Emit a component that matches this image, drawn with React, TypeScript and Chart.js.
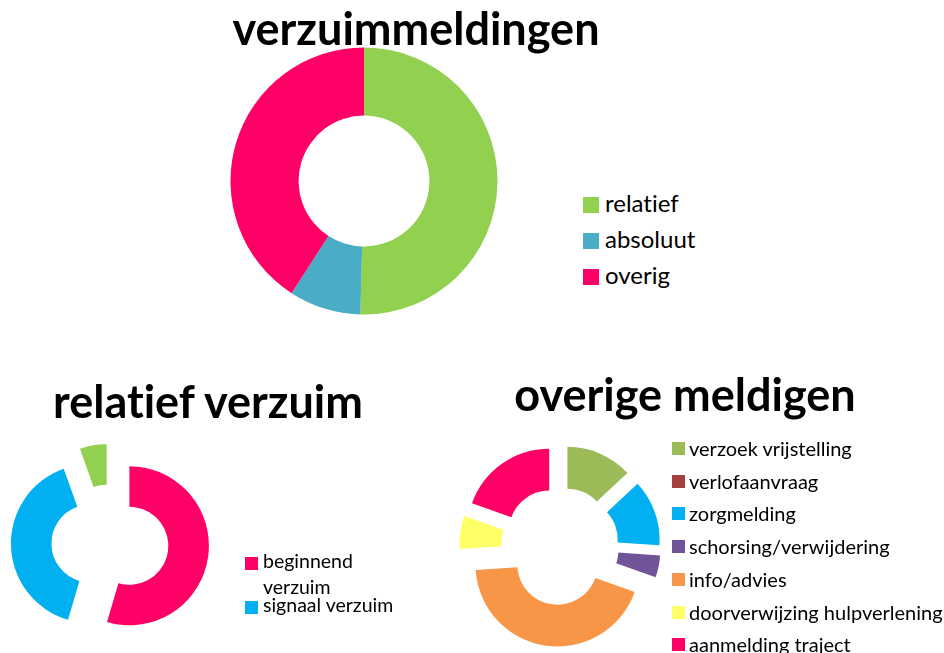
import React, { useEffect, useRef } from "react";
import { Chart, registerables } from "chart.js";

Chart.register(...registerables);

// ---- data ----
const mainTitle = "verzuimmeldingen";
const mainLabels = ["relatief", "absoluut", "overig"];
const mainValues = [58, 10, 47];
const mainColors = ["#92D050", "#4BACC6", "#FF0066"];

const relTitle = "relatief verzuim";
const relLabels = ["beginnend verzuim", "signaal verzuim", ""];
const relValues = [30, 22, 3];
const relColors = ["#FF0066", "#00B0F0", "#92D050"];

const ovTitle = "overige meldigen";
const ovLabels = [
  "verzoek vrijstelling",
  "verlofaanvraag",
  "zorgmelding",
  "schorsing/verwijdering",
  "info/advies",
  "doorverwijzing hulpverlening",
  "aanmelding traject",
];
const ovValues = [6, 0, 6, 2, 20, 3, 9];
const ovColors = ["#9BBB59", "#A5403F", "#00B0F0", "#6F5597", "#F79646", "#FFFF66", "#FF0066"];

const FONT = "Lato, 'Open Sans', sans-serif";

type DonutProps = {
  labels: string[];
  values: number[];
  colors: string[];
  radius: number;
  explode: number;
  size: number;
  cx: number;
  cy: number;
};

function Donut({ labels, values, colors, radius, explode, size, cx, cy }: DonutProps) {
  const ref = useRef<HTMLCanvasElement | null>(null);
  useEffect(() => {
    if (!ref.current) return;
    // shifts every slice outward along its bisector by the same distance (exploded doughnut)
    const explodePlugin = {
      id: "explodeSlices",
      afterDatasetUpdate(chart: any, args: any) {
        if (!explode) return;
        const meta = chart.getDatasetMeta(args.index);
        meta.data.forEach((el: any) => {
          const mid = (el.startAngle + el.endAngle) / 2;
          el.x += Math.cos(mid) * explode;
          el.y += Math.sin(mid) * explode;
        });
      },
    };
    const chart = new Chart(ref.current, {
      type: "doughnut",
      data: {
        labels,
        datasets: [
          {
            data: values,
            backgroundColor: colors,
            borderWidth: 0,
            offset: 0,
            hoverOffset: 0,
          } as any,
        ],
      },
      options: {
        responsive: false,
        animation: false,
        radius,
        cutout: "49%",
        events: [],
        layout: { padding: 0 },
        plugins: {
          legend: { display: false },
          title: { display: false },
          tooltip: { enabled: false },
        },
      } as any,
      plugins: [explodePlugin],
    });
    return () => chart.destroy();
  }, []);
  return (
    <canvas
      ref={ref}
      width={size}
      height={size}
      style={{ position: "absolute", left: cx - size / 2, top: cy - size / 2, width: size, height: size }}
    />
  );
}

function Title({ text, cx, baseline, fs }: { text: string; cx: number; baseline: number; fs: number }) {
  return (
    <div
      style={{
        position: "absolute",
        left: cx - 400,
        width: 800,
        top: baseline - 0.887 * fs,
        textAlign: "center",
        fontFamily: FONT,
        fontWeight: 700,
        fontSize: fs,
        lineHeight: `${fs}px`,
        color: "#000",
        whiteSpace: "nowrap",
        fontVariantLigatures: "none",
      }}
    >
      {text}
    </div>
  );
}

function RowLegend({
  labels,
  colors,
  x,
  y0,
  step,
  box,
  fs,
  gap,
  dy,
}: {
  labels: string[];
  colors: string[];
  x: number;
  y0: number;
  step: number;
  box: number;
  fs: number;
  gap: number;
  dy: number;
}) {
  return (
    <>
      {labels.map((l, i) => (
        <div
          key={i}
          style={{
            position: "absolute",
            left: x,
            top: y0 + i * step,
            height: box,
            display: "flex",
            alignItems: "center",
            whiteSpace: "nowrap",
          }}
        >
          <span style={{ display: "inline-block", width: box, height: box, background: colors[i] }} />
          <span
            style={{
              position: "relative",
              top: dy,
              marginLeft: gap,
              fontFamily: FONT,
              fontSize: fs,
              lineHeight: `${box}px`,
              color: "#000",
              fontVariantLigatures: "none",
            }}
          >
            {l}
          </span>
        </div>
      ))}
    </>
  );
}

function WrapLegend({ labels, colors }: { labels: string[]; colors: string[] }) {
  const fs = 19.5;
  const lh = 26;
  const items = labels.map((l, i) => ({ l, c: colors[i] })).filter((d) => d.l !== "");
  return (
    <div style={{ position: "absolute", left: 245, top: 548.4, width: 200 }}>
      {items.map((d, i) => (
        <div key={i} style={{ position: "relative", marginTop: i === 0 ? 0 : -8, paddingLeft: 18 }}>
          <span
            style={{ position: "absolute", left: 0, top: 8.5, width: 13, height: 13, background: d.c }}
          />
          <div
            style={{
              width: 145,
              fontFamily: FONT,
              fontSize: fs,
              lineHeight: `${lh}px`,
              color: "#000",
              fontVariantLigatures: "none",
            }}
          >
            {d.l}
          </div>
        </div>
      ))}
    </div>
  );
}

export default function App() {
  return (
    <div
      style={{
        position: "fixed",
        left: 0,
        top: 0,
        width: 944,
        height: 653,
        overflow: "hidden",
        background: "#fff",
      }}
    >
      <Donut labels={mainLabels} values={mainValues} colors={mainColors} radius={133.5} explode={0} size={300} cx={364} cy={181} />
      <Donut labels={relLabels} values={relValues} colors={relColors} radius={79.5} explode={19.6} size={240} cx={110} cy={543} />
      <Donut labels={ovLabels} values={ovValues} colors={ovColors} radius={82} explode={18.7} size={240} cx={560} cy={546} />

      <Title text={mainTitle} cx={416} baseline={46} fs={45} />
      <Title text={relTitle} cx={208} baseline={419} fs={45} />
      <Title text={ovTitle} cx={685} baseline={412} fs={45} />

      <RowLegend labels={mainLabels} colors={mainColors} x={583} y0={197} step={35.8} box={16} fs={24} gap={6} dy={-2} />
      <WrapLegend labels={relLabels} colors={relColors} />
      <RowLegend labels={ovLabels} colors={ovColors} x={672} y0={442} step={32.7} box={13} fs={20} gap={4} dy={0} />
    </div>
  );
}
